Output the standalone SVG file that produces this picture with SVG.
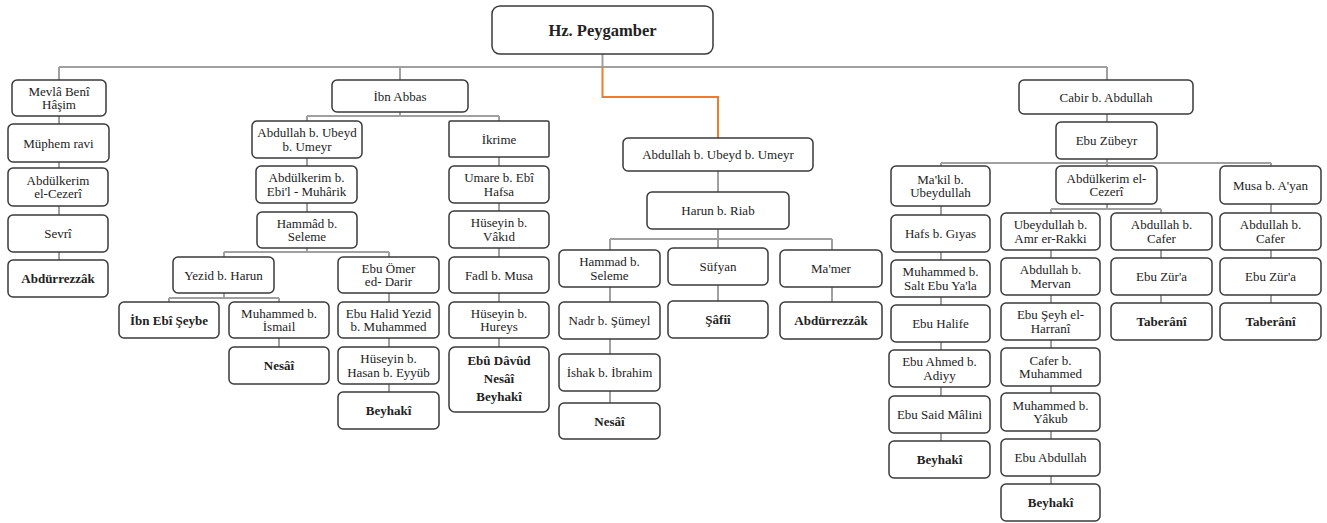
<svg xmlns="http://www.w3.org/2000/svg" width="1327" height="523" viewBox="0 0 1327 523">
<style>
rect{fill:#fff;stroke:#3a3a3a;stroke-width:1.5}
text{font-family:"Liberation Serif","Times New Roman",serif;font-size:13px;fill:#222;text-anchor:middle}
.b{font-weight:bold}
.c{fill:none;stroke:#a0a0a0;stroke-width:2}
.o{fill:none;stroke:#f07b2a;stroke-width:2}
</style>
<rect x="0" y="0" width="1327" height="523" style="fill:#fff;stroke:none"/>
<g id="connectors">
<path class="c" d="M602.5,54V67M59,67H1107M59,67V260M400,67V80M1107,67V163"/>
<path class="o" d="M602.5,67V97H718V138"/>
<path class="c" d="M400,112V116M307,116H499M307,116V252M499,116V347M224,252H389M224,252V298M389,252V392M169,298H279M169,298V302M279,298V347"/>
<path class="c" d="M718,171V301M610,239H832M610,239V403M832,239V302"/>
<path class="c" d="M941,163H1271M941,163V441M1271,163V303M1107,163V209M1051,209H1161M1051,209V484M1161,209V303"/>
</g>
<g id="root"><rect x="492" y="6" width="221" height="48" rx="8"/><text class="b" x="602.5" y="36" style="font-size:16.5px">Hz. Peygamber</text></g>
<g id="n_mevla"><rect x="12" y="80" width="94" height="36" rx="5"/><text x="59" y="95.5">Mevlâ Benî</text><text x="59" y="109">Hâşim</text></g>
<g id="n_muphem"><rect x="8" y="124" width="101" height="38" rx="5"/><text x="58.5" y="147.5">Müphem ravi</text></g>
<g id="n_abdulkerim1"><rect x="8" y="168" width="100" height="38" rx="5"/><text x="58" y="184.5">Abdülkerim</text><text x="58" y="198">el-Cezerî</text></g>
<g id="n_sevri"><rect x="8" y="215" width="100" height="37" rx="5"/><text x="58" y="238">Sevrî</text></g>
<g id="n_abdurrezzak1"><rect x="8" y="260" width="100" height="37" rx="5"/><text class="b" x="58" y="283">Abdürrezzâk</text></g>
<g id="n_ibnabbas"><rect x="332" y="80" width="136" height="32" rx="5"/><text x="400" y="100.5">İbn Abbas</text></g>
<g id="n_abdullah1"><rect x="252" y="121" width="110" height="37" rx="5"/><text x="307" y="137">Abdullah b. Ubeyd</text><text x="307" y="150.5">b. Umeyr</text></g>
<g id="n_abdulkerim2"><rect x="256" y="166" width="101" height="37" rx="5"/><text x="306.5" y="182">Abdülkerim b.</text><text x="306.5" y="195.5">Ebi'l - Muhârik</text></g>
<g id="n_hammad1"><rect x="257" y="212" width="100" height="36" rx="5"/><text x="307" y="227.5">Hammâd b.</text><text x="307" y="241">Seleme</text></g>
<g id="n_yezid"><rect x="173" y="257" width="101" height="36" rx="5"/><text x="223.5" y="279.5">Yezid b. Harun</text></g>
<g id="n_ebuomer"><rect x="338" y="257" width="101" height="36" rx="5"/><text x="388.5" y="272.5">Ebu Ömer</text><text x="388.5" y="286">ed- Darir</text></g>
<g id="n_ibnebiseybe"><rect x="119" y="302" width="100" height="36" rx="5"/><text class="b" x="169" y="324.5">İbn Ebî Şeybe</text></g>
<g id="n_muhammedismail"><rect x="229" y="302" width="100" height="36" rx="5"/><text x="279" y="317.5">Muhammed b.</text><text x="279" y="331">İsmail</text></g>
<g id="n_ebuhalid"><rect x="338" y="302" width="101" height="36" rx="5"/><text x="388.5" y="317.5">Ebu Halid Yezid</text><text x="388.5" y="331">b. Muhammed</text></g>
<g id="n_nesai1"><rect x="229" y="347" width="100" height="37" rx="5"/><text class="b" x="279" y="370">Nesâî</text></g>
<g id="n_huseyinhasan"><rect x="338" y="347" width="101" height="37" rx="5"/><text x="388.5" y="363">Hüseyin b.</text><text x="388.5" y="376.5">Hasan b. Eyyüb</text></g>
<g id="n_beyhaki1"><rect x="338" y="392" width="101" height="37" rx="5"/><text class="b" x="388.5" y="415">Beyhakî</text></g>
<g id="n_ikrime"><rect x="449" y="121" width="100" height="36" rx="1.5"/><text x="499" y="143.5">İkrime</text></g>
<g id="n_umare"><rect x="449" y="166" width="100" height="37" rx="5"/><text x="499" y="182">Umare b. Ebî</text><text x="499" y="195.5">Hafsa</text></g>
<g id="n_huseyinvakid"><rect x="449" y="211" width="100" height="37" rx="5"/><text x="499" y="227">Hüseyin b.</text><text x="499" y="240.5">Vâkıd</text></g>
<g id="n_fadl"><rect x="449" y="257" width="100" height="36" rx="5"/><text x="499" y="279.5">Fadl b. Musa</text></g>
<g id="n_huseyinhureys"><rect x="449" y="302" width="100" height="36" rx="5"/><text x="499" y="317.5">Hüseyin b.</text><text x="499" y="331">Hureys</text></g>
<g id="n_ebudavud"><rect x="449" y="347" width="100" height="65" rx="6"/><text class="b" x="499" y="365">Ebû Dâvûd</text><text class="b" x="499" y="383">Nesâî</text><text class="b" x="499" y="401">Beyhakî</text></g>
<g id="n_abdullah2"><rect x="623" y="138" width="190" height="33" rx="5"/><text x="718" y="159">Abdullah b. Ubeyd b. Umeyr</text></g>
<g id="n_harun"><rect x="647" y="192" width="142" height="37" rx="5"/><text x="718" y="215">Harun b. Riab</text></g>
<g id="n_hammad2"><rect x="559" y="250" width="101" height="37" rx="5"/><text x="609.5" y="266">Hammad b.</text><text x="609.5" y="279.5">Seleme</text></g>
<g id="n_sufyan"><rect x="668" y="248" width="100" height="37" rx="5"/><text x="718" y="271">Süfyan</text></g>
<g id="n_mamer"><rect x="780" y="250" width="102" height="37" rx="5"/><text x="831" y="273">Ma'mer</text></g>
<g id="n_nadr"><rect x="559" y="302" width="101" height="37" rx="5"/><text x="609.5" y="325">Nadr b. Şümeyl</text></g>
<g id="n_safii"><rect x="668" y="301" width="100" height="37" rx="5"/><text class="b" x="718" y="324">Şâfiî</text></g>
<g id="n_abdurrezzak2"><rect x="780" y="302" width="102" height="37" rx="5"/><text class="b" x="831" y="325">Abdürrezzâk</text></g>
<g id="n_ishak"><rect x="559" y="354" width="101" height="37" rx="5"/><text x="609.5" y="377">İshak b. İbrahim</text></g>
<g id="n_nesai2"><rect x="559" y="403" width="101" height="36" rx="5"/><text class="b" x="609.5" y="425.5">Nesâî</text></g>
<g id="n_cabir"><rect x="1019" y="80" width="174" height="34" rx="5"/><text x="1106" y="101.5">Cabir b. Abdullah</text></g>
<g id="n_ebuzubeyr"><rect x="1056" y="122" width="101" height="37" rx="5"/><text x="1106.5" y="145">Ebu Zübeyr</text></g>
<g id="n_makil"><rect x="891" y="166" width="99" height="40" rx="5"/><text x="940.5" y="183.5">Ma'kil b.</text><text x="940.5" y="197">Ubeydullah</text></g>
<g id="n_abdulkerim3"><rect x="1056" y="166" width="101" height="38" rx="5"/><text x="1106.5" y="182.5">Abdülkerim el-</text><text x="1106.5" y="196">Cezerî</text></g>
<g id="n_musa"><rect x="1220" y="166" width="101" height="38" rx="5"/><text x="1270.5" y="189.5">Musa b. A'yan</text></g>
<g id="n_hafs"><rect x="891" y="215" width="99" height="37" rx="5"/><text x="940.5" y="238">Hafs b. Gıyas</text></g>
<g id="n_muhammedsalt"><rect x="891" y="260" width="99" height="37" rx="5"/><text x="940.5" y="276">Muhammed b.</text><text x="940.5" y="289.5">Salt Ebu Ya'la</text></g>
<g id="n_ebuhalife"><rect x="891" y="305" width="99" height="37" rx="5"/><text x="940.5" y="328">Ebu Halife</text></g>
<g id="n_ebuahmed"><rect x="889" y="350" width="101" height="37" rx="5"/><text x="939.5" y="366">Ebu Ahmed b.</text><text x="939.5" y="379.5">Adiyy</text></g>
<g id="n_ebusaid"><rect x="889" y="396" width="101" height="37" rx="5"/><text x="939.5" y="419">Ebu Said Mâlini</text></g>
<g id="n_beyhaki2"><rect x="889" y="441" width="101" height="37" rx="5"/><text class="b" x="939.5" y="464">Beyhakî</text></g>
<g id="n_ubeydullah"><rect x="1001" y="213" width="99" height="37" rx="5"/><text x="1050.5" y="229">Ubeydullah b.</text><text x="1050.5" y="242.5">Amr er-Rakki</text></g>
<g id="n_abdullahmervan"><rect x="1001" y="258" width="99" height="37" rx="5"/><text x="1050.5" y="274">Abdullah b.</text><text x="1050.5" y="287.5">Mervan</text></g>
<g id="n_ebuseyh"><rect x="1001" y="303" width="99" height="37" rx="5"/><text x="1050.5" y="319">Ebu Şeyh el-</text><text x="1050.5" y="332.5">Harranî</text></g>
<g id="n_cafer"><rect x="1001" y="348" width="99" height="38" rx="5"/><text x="1050.5" y="364.5">Cafer b.</text><text x="1050.5" y="378">Muhammed</text></g>
<g id="n_muhammedyakub"><rect x="1001" y="393" width="99" height="38" rx="5"/><text x="1050.5" y="409.5">Muhammed b.</text><text x="1050.5" y="423">Yâkub</text></g>
<g id="n_ebuabdullah"><rect x="1001" y="439" width="99" height="37" rx="5"/><text x="1050.5" y="462">Ebu Abdullah</text></g>
<g id="n_beyhaki3"><rect x="1001" y="484" width="99" height="37" rx="5"/><text class="b" x="1050.5" y="507">Beyhakî</text></g>
<g id="n_abdullahcafer1"><rect x="1111" y="213" width="101" height="37" rx="5"/><text x="1161.5" y="229">Abdullah b.</text><text x="1161.5" y="242.5">Cafer</text></g>
<g id="n_ebuzura1"><rect x="1111" y="258" width="101" height="37" rx="5"/><text x="1161.5" y="281">Ebu Zür'a</text></g>
<g id="n_taberani1"><rect x="1111" y="303" width="101" height="37" rx="5"/><text class="b" x="1161.5" y="326">Taberânî</text></g>
<g id="n_abdullahcafer2"><rect x="1220" y="213" width="101" height="37" rx="5"/><text x="1270.5" y="229">Abdullah b.</text><text x="1270.5" y="242.5">Cafer</text></g>
<g id="n_ebuzura2"><rect x="1220" y="258" width="101" height="37" rx="5"/><text x="1270.5" y="281">Ebu Zür'a</text></g>
<g id="n_taberani2"><rect x="1220" y="303" width="101" height="37" rx="5"/><text class="b" x="1270.5" y="326">Taberânî</text></g>
</svg>
